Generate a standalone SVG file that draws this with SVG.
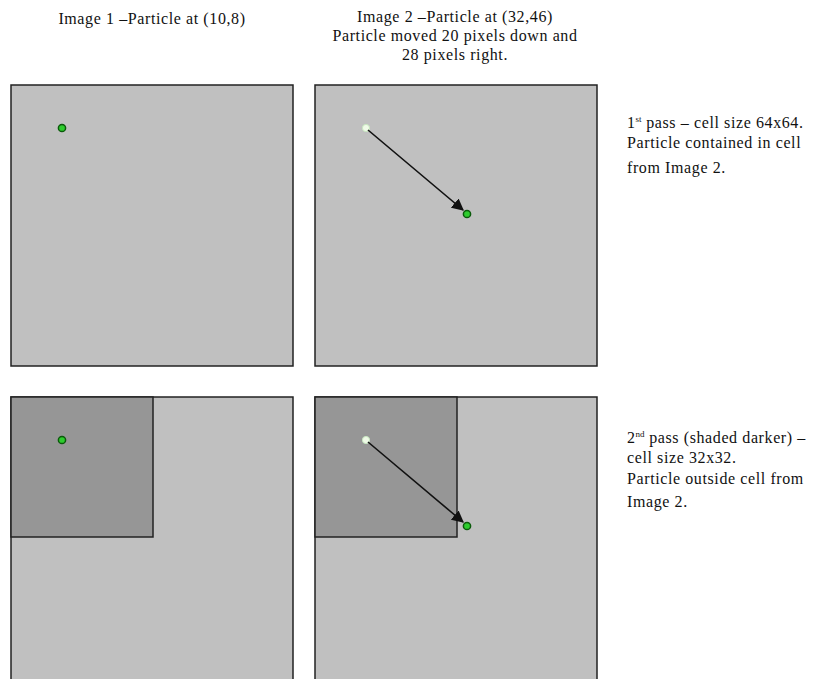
<svg xmlns="http://www.w3.org/2000/svg" width="814" height="679" viewBox="0 0 814 679">
<style>
.t{font-family:'Liberation Serif','DejaVu Serif',serif;font-size:16px;letter-spacing:0.6px;fill:#111}
.sup{font-size:9px;letter-spacing:0}
.cell{fill:#c0c0c0;stroke:#222;stroke-width:1.5}
.dark{fill:#969696;stroke:#222;stroke-width:1.5}
.p{fill:#2ecc2e;stroke:#0a5a0a;stroke-width:1.5}
.w{fill:#f0fbe8;stroke:#c8e8c0;stroke-width:1}
.arr{stroke:#111;stroke-width:1.6;fill:none}
</style>
<defs>
<marker id="ah2" viewBox="0 0 10 10" refX="9" refY="5" markerWidth="12" markerHeight="12" orient="auto" markerUnits="userSpaceOnUse">
<path d="M0,0 L10,5 L0,10 z" fill="#111"/>
</marker>
</defs>
<rect width="814" height="679" fill="#fff"/>
<g id="labels">
<text class="t" x="152" y="24" text-anchor="middle">Image 1 –Particle at (10,8)</text>
<text class="t" x="455" y="22" text-anchor="middle">Image 2 –Particle at (32,46)</text>
<text class="t" x="455" y="41" text-anchor="middle">Particle moved 20 pixels down and</text>
<text class="t" x="455" y="60" text-anchor="middle">28 pixels right.</text>
<text class="t" x="627" y="128">1<tspan class="sup" dy="-6">st</tspan><tspan dy="6"> pass – cell size 64x64.</tspan></text>
<text class="t" x="627" y="148">Particle contained in cell</text>
<text class="t" x="627" y="173">from Image 2.</text>
<text class="t" x="627" y="443">2<tspan class="sup" dy="-6">nd</tspan><tspan dy="6">  pass (shaded darker) –</tspan></text>
<text class="t" x="627" y="463">cell size 32x32.</text>
<text class="t" x="627" y="484">Particle outside cell from</text>
<text class="t" x="627" y="507">Image 2.</text>
</g>
<g id="img1-pass1">
<rect class="cell" x="11" y="85" width="282" height="281"/>
<circle class="p" cx="62" cy="128" r="3.6"/>
</g>
<g id="img2-pass1">
<rect class="cell" x="315" y="85" width="282" height="281"/>
<circle class="w" cx="366" cy="128" r="3.6"/>
<circle class="p" cx="467" cy="214" r="3.6"/>
</g>
<g id="img1-pass2">
<rect class="cell" x="11" y="397" width="282" height="283"/>
<rect class="dark" x="11" y="397" width="142" height="140"/>
<circle class="p" cx="62" cy="440" r="3.6"/>
</g>
<g id="img2-pass2">
<rect class="cell" x="315" y="397" width="282" height="283"/>
<rect class="dark" x="315" y="397" width="142" height="140"/>
<circle class="w" cx="366" cy="440" r="3.6"/>
<circle class="p" cx="467" cy="526" r="3.6"/>
</g>
<g id="connectors">
<line class="arr" x1="368" y1="130" x2="463" y2="210" marker-end="url(#ah2)"/>
<line class="arr" x1="368" y1="442" x2="463" y2="522" marker-end="url(#ah2)"/>
</g>
</svg>
